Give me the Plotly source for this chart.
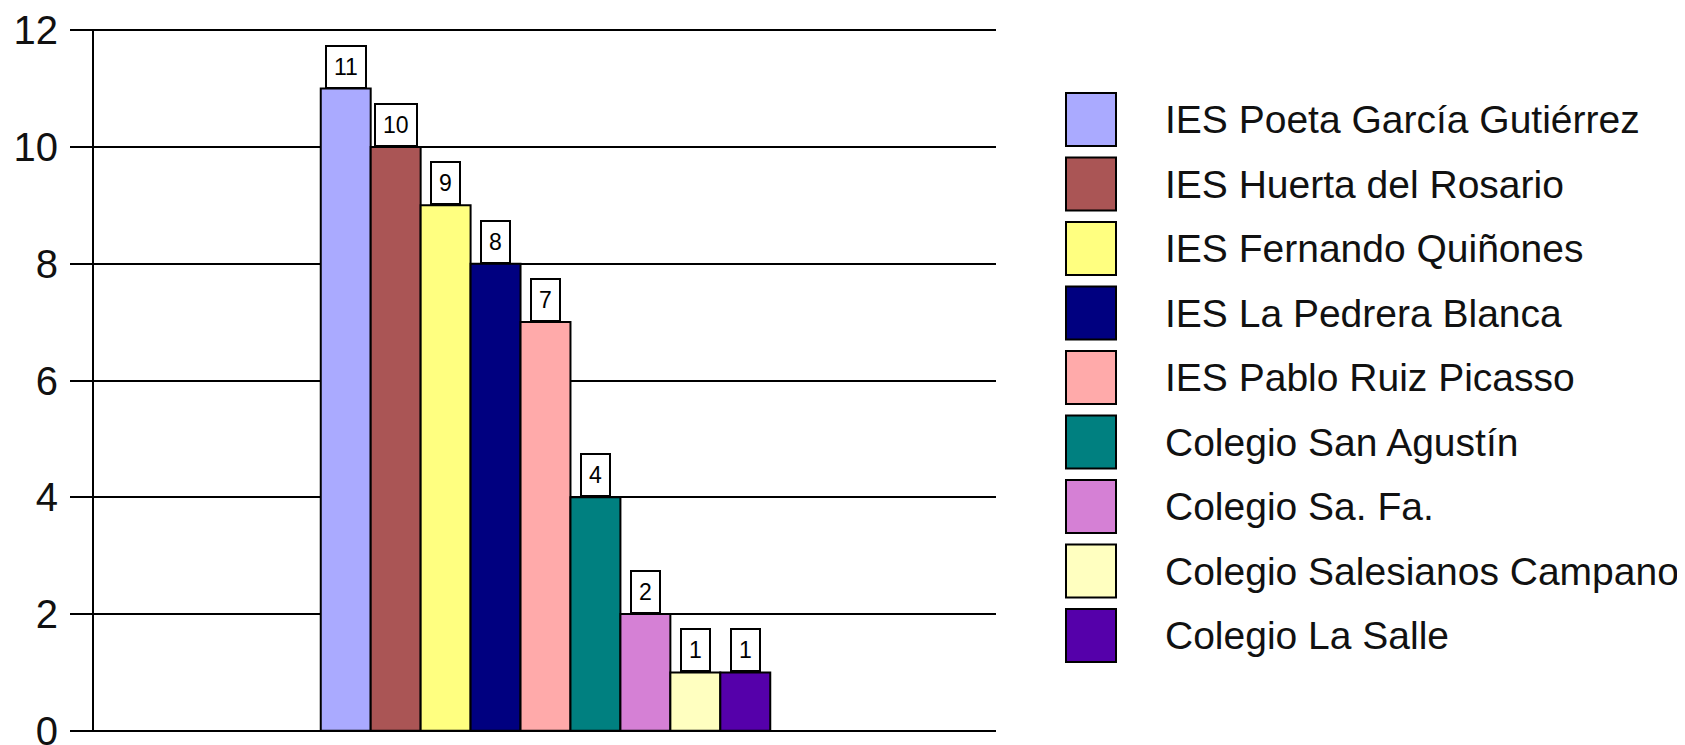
import plotly.graph_objects as go

schools = [
    "IES Poeta García Gutiérrez",
    "IES Huerta del Rosario",
    "IES Fernando Quiñones",
    "IES La Pedrera Blanca",
    "IES Pablo Ruiz Picasso",
    "Colegio San Agustín",
    "Colegio Sa. Fa.",
    "Colegio Salesianos Campano",
    "Colegio La Salle",
]
values = [11, 10, 9, 8, 7, 4, 2, 1, 1]
colors = ["#AAAAFF", "#AA5555", "#FFFF80", "#000080", "#FFAAAA",
          "#008080", "#D580D5", "#FFFFC0", "#5500AA"]
y_ticks = [0, 2, 4, 6, 8, 10, 12]

FONT = "Liberation Sans, Arial, sans-serif"

# the page body has an 8px margin; lay the figure out in page pixels minus it
OFF = 8
W, H = 1685 - OFF, 745 - OFF
L, R, T, B = 94 - OFF, 996 - OFF, 29 - OFF, 732 - OFF
Y_RANGE = [-0.02, 12.02]
X_RANGE = [-5.04, 13.02]

fig = go.Figure()
for i, (name, v, c) in enumerate(zip(schools, values, colors)):
    fig.add_trace(go.Bar(
        x=[i], y=[v], name=name, width=1,
        marker=dict(color=c, line=dict(color="black", width=2)),
        showlegend=False, hoverinfo="name+y",
    ))
    fig.add_annotation(
        x=i, y=v, text=str(v), showarrow=False, yanchor="bottom",
        font=dict(family=FONT, size=23, color="black"),
        bgcolor="white", bordercolor="black", borderwidth=2, borderpad=7,
    )

# custom legend (large swatches as in the reference)
sw_left, sw_w, sw_h, first_top, step = 1066 - OFF, 50, 53, 93 - OFF, 64.5
text_left = 1163 - OFF
for i, (name, c) in enumerate(zip(schools, colors)):
    top = first_top + i * step
    fig.add_shape(
        type="rect", xref="paper", yref="paper",
        xsizemode="pixel", ysizemode="pixel", xanchor=1, yanchor=1,
        x0=sw_left - R, x1=sw_left + sw_w - R,
        y0=T - top, y1=T - (top + sw_h),
        fillcolor=c, line=dict(color="black", width=2),
    )
    fig.add_annotation(
        xref="paper", yref="paper", x=1, y=1,
        xshift=text_left - R, yshift=T - (top + sw_h / 2),
        xanchor="left", yanchor="middle", showarrow=False,
        text=name, font=dict(family=FONT, size=39, color="#111111"),
    )

fig.update_layout(
    template="none",
    width=W, height=H,
    margin=dict(l=L, r=W - R, t=T, b=H - B, pad=0, autoexpand=False),
    paper_bgcolor="white", plot_bgcolor="white",
    barmode="overlay", showlegend=False,
    font=dict(family=FONT, color="#111111"),
)
fig.update_xaxes(
    range=X_RANGE, showticklabels=False, showgrid=False,
    zeroline=False, showline=False, ticks="", automargin=False,
)
fig.update_yaxes(
    range=Y_RANGE, tickvals=y_ticks, ticktext=[str(t) for t in y_ticks],
    showgrid=True, gridcolor="black", gridwidth=2,
    zeroline=False,
    showline=True, linecolor="black", linewidth=2,
    ticks="outside", ticklen=22, tickwidth=2, tickcolor="black",
    ticklabelstandoff=4, ticklabeloverflow="allow", automargin=False,
    tickfont=dict(family=FONT, size=40, color="#111111"),
)

fig.write_html("out.html")
